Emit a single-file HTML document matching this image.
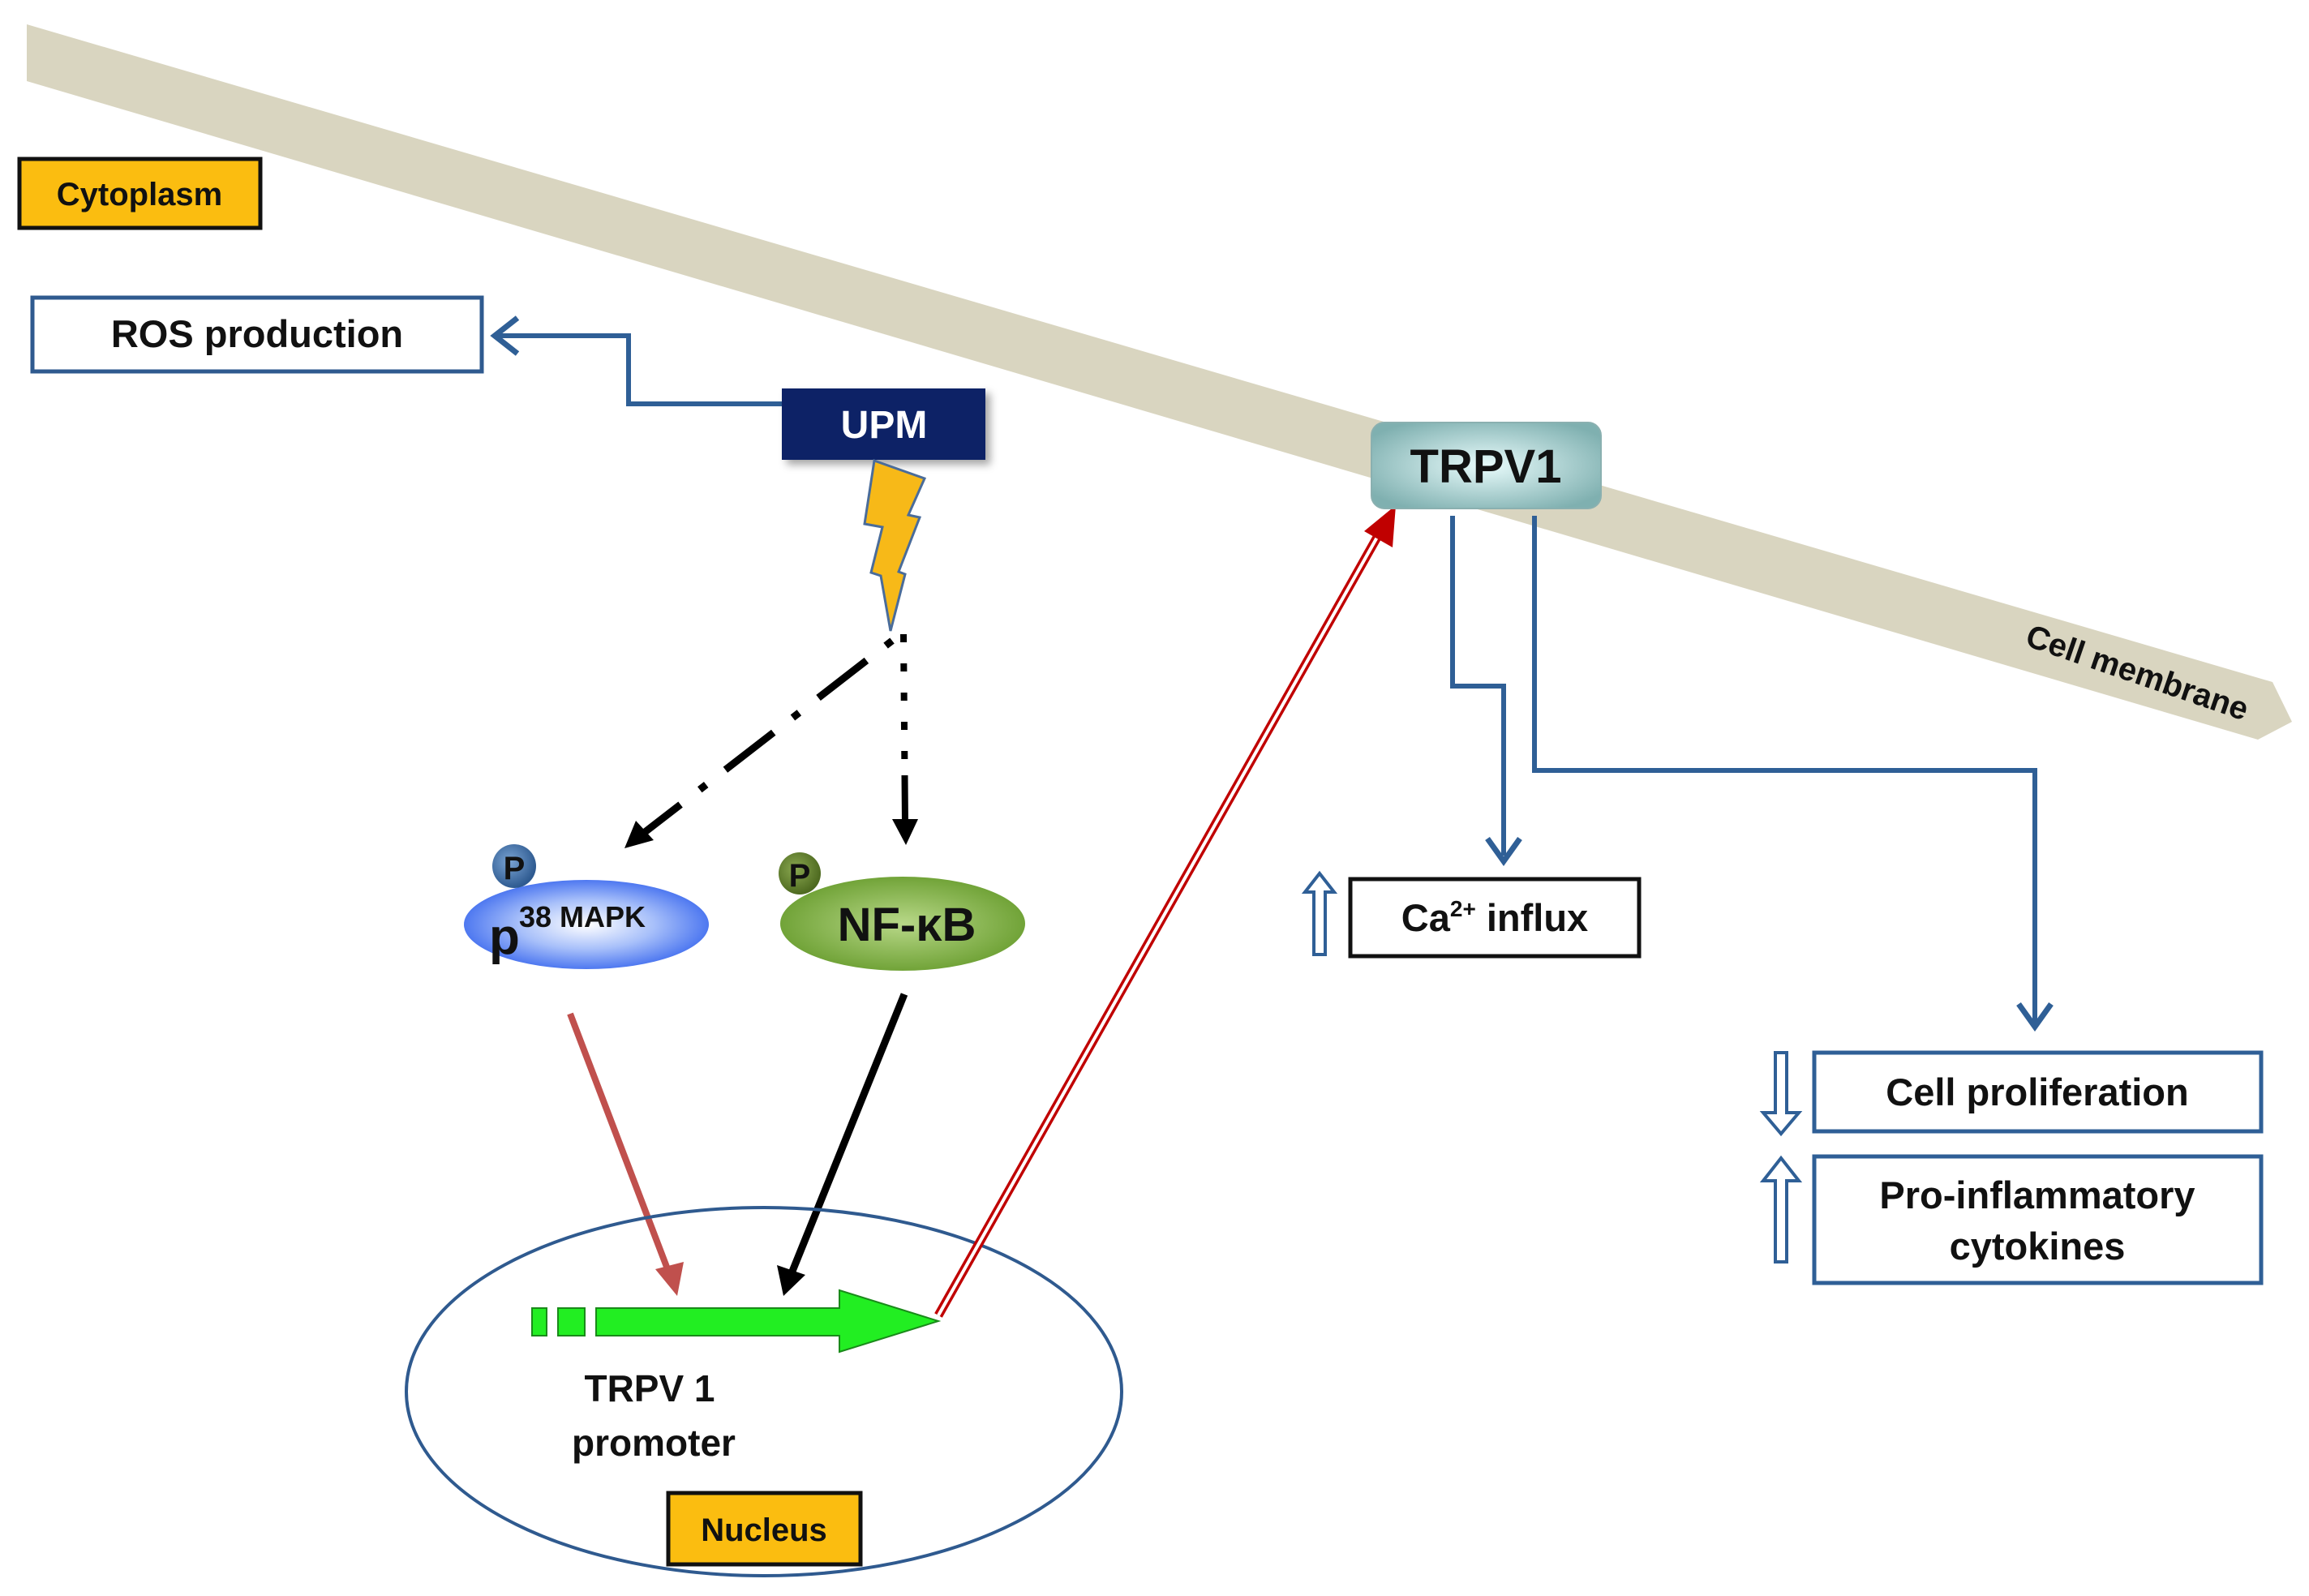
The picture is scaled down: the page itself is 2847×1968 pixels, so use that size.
<!DOCTYPE html>
<html><head><meta charset="utf-8"><style>
html,body{margin:0;padding:0;background:#fff;}
svg{display:block;}
text{font-family:"Liberation Sans",sans-serif;font-weight:bold;}
</style></head><body>
<svg width="2847" height="1968" viewBox="0 0 2847 1968" xmlns="http://www.w3.org/2000/svg">
<defs>
<radialGradient id="gb" cx="50%" cy="50%" r="55%"><stop offset="0" stop-color="#ffffff"/><stop offset="0.5" stop-color="#a8c0fa"/><stop offset="1" stop-color="#3a68ee"/></radialGradient>
<radialGradient id="gg" cx="50%" cy="50%" r="55%"><stop offset="0" stop-color="#b8d888"/><stop offset="1" stop-color="#6a9e30"/></radialGradient>
<radialGradient id="gt" cx="50%" cy="50%" r="60%"><stop offset="0" stop-color="#e8fbfb"/><stop offset="1" stop-color="#7fb0b0"/></radialGradient>
<radialGradient id="gp1" cx="40%" cy="40%" r="60%"><stop offset="0" stop-color="#7aa4d4"/><stop offset="1" stop-color="#2e5a90"/></radialGradient>
<radialGradient id="gp2" cx="40%" cy="40%" r="60%"><stop offset="0" stop-color="#8aa850"/><stop offset="1" stop-color="#4e6a20"/></radialGradient>
<filter id="sh" x="-20%" y="-20%" width="150%" height="150%"><feDropShadow dx="6" dy="6" stdDeviation="5" flood-color="#000" flood-opacity="0.35"/></filter>
</defs>

<!-- membrane -->
<polygon points="33,30 2802,841 2826,890 2784,912 33,100" fill="#d9d5c0"/>
<text x="0" y="0" font-size="40" fill="#111" transform="translate(2631,842) rotate(19)" text-anchor="middle">Cell membrane</text>

<!-- Cytoplasm -->
<rect x="24" y="196" width="297" height="85" fill="#fbbd10" stroke="#111" stroke-width="5"/>
<text x="172" y="253" font-size="40" text-anchor="middle" fill="#111">Cytoplasm</text>

<!-- ROS -->
<rect x="40" y="367" width="554" height="91" fill="#fff" stroke="#2f5a8f" stroke-width="5"/>
<text x="317" y="428" font-size="47" text-anchor="middle" fill="#111">ROS production</text>
<polyline points="964,498 775,498 775,414 612,414" fill="none" stroke="#2f5f96" stroke-width="6"/>
<polyline points="638,392 610,414 638,436" fill="none" stroke="#2f5f96" stroke-width="7"/>

<!-- UPM -->
<rect x="964" y="479" width="251" height="88" fill="#0a2466" filter="url(#sh)"/>
<text x="1090" y="540" font-size="48" text-anchor="middle" fill="#fff">UPM</text>

<!-- lightning -->
<polygon points="1078,568 1140,590 1120,635 1134,638 1108,705 1116,708 1098,778 1086,710 1074,706 1088,650 1066,646" fill="#f7b918" stroke="#4a6c9a" stroke-width="3"/>

<!-- dashed connectors -->
<line x1="1114" y1="782" x2="1116" y2="1015" stroke="#000" stroke-width="8" stroke-dasharray="10 26 10 26 10 26 10 26 10 20 200"/>
<polygon points="1100,1010 1132,1010 1117,1042" fill="#000"/>
<line x1="1100" y1="790" x2="790" y2="1030" stroke="#000" stroke-width="9" stroke-dasharray="10 30 75 30"/>
<polygon points="770,1046 784,1012 806,1036" fill="#000"/>

<!-- p38 -->
<ellipse cx="723" cy="1140" rx="151" ry="55" fill="url(#gb)"/>
<circle cx="634" cy="1068" r="27" fill="url(#gp1)"/>
<text x="634" y="1084" font-size="40" text-anchor="middle" fill="#111">P</text>
<text x="603" y="1176" font-size="62" fill="#111">p</text>
<text x="640" y="1143" font-size="36" fill="#111">38 MAPK</text>

<!-- NF-kB -->
<ellipse cx="1113" cy="1139" rx="151" ry="58" fill="url(#gg)"/>
<circle cx="986" cy="1077" r="26" fill="url(#gp2)"/>
<text x="986" y="1093" font-size="40" text-anchor="middle" fill="#111">P</text>
<text x="1118" y="1160" font-size="58" text-anchor="middle" fill="#111">NF-κB</text>

<!-- arrows into nucleus -->
<line x1="703" y1="1250" x2="825" y2="1570" stroke="#c0504d" stroke-width="8"/>
<polygon points="835,1598 808,1565 843,1556" fill="#c0504d"/>
<line x1="1115" y1="1226" x2="976" y2="1570" stroke="#000" stroke-width="9"/>
<polygon points="966,1598 958,1560 993,1572" fill="#000"/>

<!-- nucleus -->
<ellipse cx="942" cy="1716" rx="441" ry="227" fill="none" stroke="#2f5a8f" stroke-width="4"/>
<rect x="656" y="1613" width="18" height="34" fill="#22ee22" stroke="#1a8a1a" stroke-width="2"/>
<rect x="688" y="1613" width="33" height="34" fill="#22ee22" stroke="#1a8a1a" stroke-width="2"/>
<polygon points="735,1613 1035,1613 1035,1591 1157,1629 1035,1667 1035,1647 735,1647" fill="#22ee22" stroke="#1a8a1a" stroke-width="2"/>
<text x="801" y="1728" font-size="46" text-anchor="middle" fill="#111">TRPV 1</text>
<text x="806" y="1795" font-size="46" text-anchor="middle" fill="#111">promoter</text>
<rect x="824" y="1841" width="237" height="88" fill="#fbbd10" stroke="#111" stroke-width="5"/>
<text x="942" y="1900" font-size="40" text-anchor="middle" fill="#111">Nucleus</text>

<!-- red double arrow -->
<line x1="1157" y1="1622" x2="1705" y2="650" stroke="#c00000" stroke-width="11"/>
<line x1="1157" y1="1622" x2="1705" y2="650" stroke="#fff" stroke-width="4"/>
<polygon points="1721,623 1717,675 1682,655" fill="#c00000"/>

<!-- TRPV1 -->
<rect x="1691" y="521" width="283" height="106" rx="16" fill="url(#gt)" stroke="#8ab0b0" stroke-width="2"/>
<text x="1832" y="595" font-size="58" text-anchor="middle" fill="#111">TRPV1</text>

<!-- blue connectors -->
<polyline points="1791,636 1791,846 1854,846 1854,1055" fill="none" stroke="#2f5f96" stroke-width="6"/>
<polyline points="1834,1034 1854,1062 1874,1034" fill="none" stroke="#2f5f96" stroke-width="7"/>
<polyline points="1892,636 1892,950 2509,950 2509,1260" fill="none" stroke="#2f5f96" stroke-width="6"/>
<polyline points="2489,1238 2509,1266 2529,1238" fill="none" stroke="#2f5f96" stroke-width="7"/>

<!-- Ca box -->
<rect x="1665" y="1084" width="356" height="95" fill="#fff" stroke="#111" stroke-width="5"/>
<text x="1843" y="1148" font-size="47" text-anchor="middle" fill="#111">Ca<tspan font-size="28" dy="-18">2+</tspan><tspan dy="18"> influx</tspan></text>
<polygon points="1627,1077 1645,1100 1634,1100 1634,1177 1620,1177 1620,1100 1609,1100" fill="#fff" stroke="#2f5f96" stroke-width="4"/>

<!-- Cell proliferation -->
<rect x="2237" y="1298" width="551" height="97" fill="#fff" stroke="#2f5f96" stroke-width="5"/>
<text x="2512" y="1363" font-size="47" text-anchor="middle" fill="#111">Cell proliferation</text>
<polygon points="2189,1298 2203,1298 2203,1372 2218,1372 2196,1398 2174,1372 2189,1372" fill="#fff" stroke="#2f5f96" stroke-width="4"/>

<!-- Pro-inflammatory -->
<rect x="2237" y="1426" width="551" height="156" fill="#fff" stroke="#2f5f96" stroke-width="5"/>
<text x="2512" y="1490" font-size="47" text-anchor="middle" fill="#111">Pro-inflammatory</text>
<text x="2512" y="1553" font-size="47" text-anchor="middle" fill="#111">cytokines</text>
<polygon points="2196,1428 2218,1456 2203,1456 2203,1556 2189,1556 2189,1456 2174,1456" fill="#fff" stroke="#2f5f96" stroke-width="4"/>
</svg>
</body></html>
